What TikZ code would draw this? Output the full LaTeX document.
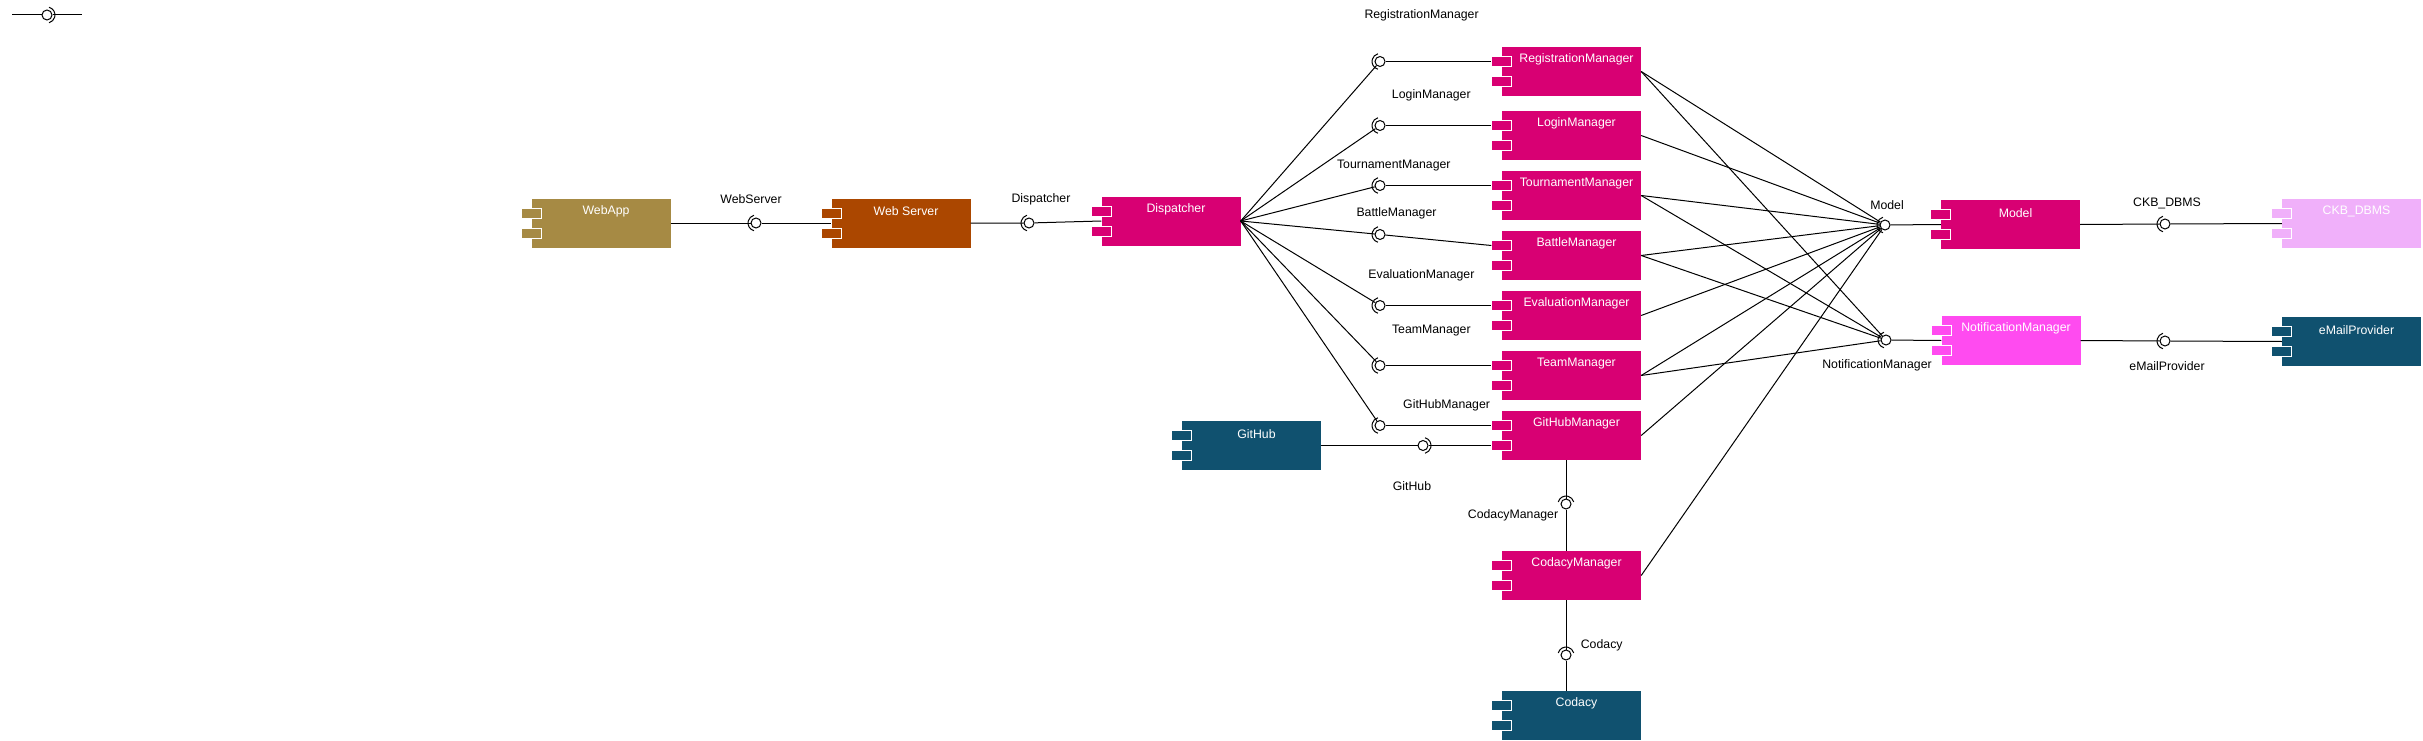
\documentclass[tikz,border=0pt]{standalone}
\usepackage{fontspec}
\setmainfont{Liberation Sans}
\usepackage{xcolor}
\definecolor{colMgr}{HTML}{D80073}
\definecolor{colExt}{HTML}{10516F}
\definecolor{colApp}{HTML}{A68A44}
\definecolor{colWeb}{HTML}{AB4700}
\definecolor{colNotif}{HTML}{FF4BF0}
\definecolor{colDb}{HTML}{F0B0FA}
\usepackage{tikz}
\usetikzlibrary{calc}

% component: name, x, y, colour, text
\newcommand{\comp}[5]{%
  \node[compbody, fill=#4, label={[comptext]north:#5}] (#1) at (#2,#3) {};
  \node[compport, fill=#4] (#1-p1) at ([yshift=10pt]#1.west) {};
  \node[compport, fill=#4] (#1-p2) at ([yshift=-10pt]#1.west) {};
}
% socket arc round a ball, facing the given angle
\newcommand{\socket}[2]{%
  \draw[conn] ($(#1.center)+(#2-75:8)$) arc[start angle=#2-75, end angle=#2+75, radius=8];
}

\begin{document}
\begin{tikzpicture}[x=1pt, y=-1pt, every node/.style={font=\fontsize{12.3}{14}\selectfont},
  conn/.style={line width=1pt},
  compbody/.style={rectangle, minimum width=139pt, minimum height=49pt, inner sep=0pt},
  compport/.style={rectangle, draw=white, line width=1pt, minimum width=20pt, minimum height=10pt, inner sep=0pt},
  comptext/.style={text=white, anchor=center, yshift=-13pt, xshift=5pt},
  ball/.style={circle, draw, line width=1pt, fill=white, minimum size=10pt, inner sep=0pt}]
  \path[use as bounding box, fill=white] (0,0) rectangle (2423,741);

  % legend
  \coordinate (legA) at (12,15);
  \coordinate (legB) at (82,15);
  \node[ball] (legBall) at (47,15) {};
  \socket{legBall}{0}
  \draw[conn] (legA) -- (legBall) -- (legB);

  % components
  \comp{webApp}{601}{223}{colApp}{WebApp}
  \comp{webSrv}{901}{223}{colWeb}{Web Server}
  \comp{disp}{1171}{221}{colMgr}{Dispatcher}
  \foreach \n/\y/\t in {reg/71.5/RegistrationManager, login/135.5/LoginManager,
      tour/195.5/TournamentManager, battle/255.5/BattleManager, eval/315.5/EvaluationManager,
      team/375.5/TeamManager, gitMgr/435.5/GitHubManager, codMgr/575.5/CodacyManager}{
    \comp{\n}{1571.5}{\y}{colMgr}{\t}
  }
  \comp{gitHub}{1251.5}{445.5}{colExt}{GitHub}
  \comp{codacy}{1571.5}{715.5}{colExt}{Codacy}
  \comp{model}{2010.5}{224.5}{colMgr}{Model}
  \comp{notif}{2011}{340.5}{colNotif}{NotificationManager}
  \comp{ckb}{2351.5}{223.5}{colDb}{CKB\_DBMS}
  \comp{mail}{2351.5}{341.5}{colExt}{eMailProvider}

  % web chain
  \node[ball] (iWebSrv) at (756,223) {};
  \socket{iWebSrv}{180}
  \node (lWebSrv) at (751,199) {WebServer};
  \draw[conn] (webApp.east) -- (iWebSrv) -- (webSrv.west);
  \node[ball] (iDisp) at (1029,223) {};
  \socket{iDisp}{180}
  \node (lDisp) at (1041,199) {Dispatcher};
  \draw[conn] (webSrv.east) -- (iDisp) -- (disp.west);

  % dispatcher to managers
  \foreach \n/\y/\lx/\ly/\t in {reg/61.5/1421.6/15.5/RegistrationManager,
      login/125.5/1431.3/95.7/LoginManager, tour/185.5/1393.8/165.7/TournamentManager,
      battle/234.5/1396.5/213.3/BattleManager, eval/305.5/1421.4/275.7/EvaluationManager,
      team/365.5/1431.3/330.7/TeamManager, gitMgr/425.5/1446.6/405.7/GitHubManager}{
    \node[ball] (i\n) at (1380,\y) {};
    \socket{i\n}{180}
    \node (l\n) at (\lx,\ly) {\t};
    \draw[conn] (disp.east) -- (i\n);
    \draw[conn] (i\n) -- (\n-p1.west);
  }

  % GitHub and Codacy
  \node[ball] (iGitHub) at (1423,445.5) {};
  \socket{iGitHub}{0}
  \node (lGitHub) at (1412,485.7) {GitHub};
  \draw[conn] (gitHub.east) -- (iGitHub) -- (gitMgr-p2.west);
  \node[ball] (iCodMgr) at (1566,504) {};
  \socket{iCodMgr}{270}
  \node (lCodMgr) at (1513,515.7) {CodacyManager};
  \draw[conn] (gitMgr.south -| iCodMgr) -- (iCodMgr) -- (codMgr.north -| iCodMgr);
  \node[ball] (iCodacy) at (1566,655) {};
  \socket{iCodacy}{270}
  \node (lCodacy) at (1601.7,645.7) {Codacy};
  \draw[conn] (codMgr.south -| iCodacy) -- (iCodacy) -- (codacy.north -| iCodacy);

  % model and notifications
  \node[ball] (iModel) at (1885,225) {};
  \socket{iModel}{180}
  \node (lModel) at (1887,205) {Model};
  \draw[conn] (iModel) -- (model.west);
  \foreach \n in {reg, login, tour, battle, eval, team, gitMgr, codMgr}
    \draw[conn] (\n.east) -- (iModel);
  \node[ball] (iNotif) at (1886,340) {};
  \socket{iNotif}{180}
  \node (lNotif) at (1877,365.7) {NotificationManager};
  \draw[conn] (iNotif) -- (notif.west);
  \foreach \n in {reg, tour, battle, team}
    \draw[conn] (\n.east) -- (iNotif);

  % external services
  \node[ball] (iCkb) at (2165,224) {};
  \socket{iCkb}{180}
  \node (lCkb) at (2167,203.7) {CKB\_DBMS};
  \draw[conn] (model.east) -- (iCkb) -- (ckb.west);
  \node[ball] (iMail) at (2165,341) {};
  \socket{iMail}{180}
  \node (lMail) at (2167,365.7) {eMailProvider};
  \draw[conn] (notif.east) -- (iMail) -- (mail.west);
\end{tikzpicture}
\end{document}
